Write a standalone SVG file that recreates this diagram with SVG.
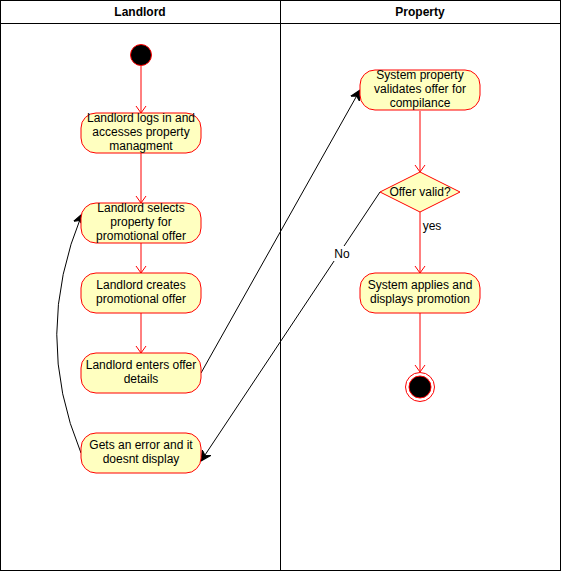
<svg xmlns="http://www.w3.org/2000/svg" width="561" height="571" viewBox="0 0 561 571">
<style>
.lane{fill:#fff;stroke:#000;stroke-width:1}
.hdr{font-family:"Liberation Sans",Arial,sans-serif;font-size:12px;font-weight:bold;text-anchor:middle;fill:#000}
.act{fill:#ffffc0;stroke:#ff0000;stroke-width:1}
.t{font-family:"Liberation Sans",Arial,sans-serif;font-size:12px;text-anchor:middle;fill:#000}
.red{fill:none;stroke:#ff0000;stroke-width:1}
.blk{fill:none;stroke:#000;stroke-width:1}
</style>
<defs>
<marker id="open" markerWidth="12" markerHeight="12" refX="10" refY="6" orient="auto" markerUnits="userSpaceOnUse">
<path d="M3,1 L10,6 L3,11" fill="none" stroke="#ff0000" stroke-width="1"/>
</marker>
<marker id="fill" markerWidth="12" markerHeight="12" refX="10" refY="6" orient="auto" markerUnits="userSpaceOnUse">
<path d="M0,1 L10,6 L0,11 L3,6 Z" fill="#000" stroke="#000" stroke-width="1"/>
</marker>
</defs>
<rect width="561" height="571" fill="#fff"/>
<g id="lane-landlord">
<rect class="lane" x="0.5" y="0.5" width="280" height="570"/>
<line x1="0.5" y1="23.5" x2="280.5" y2="23.5" stroke="#000"/>
<text class="hdr" x="140" y="16">Landlord</text>
</g>
<g id="lane-property">
<rect class="lane" x="280.5" y="0.5" width="280" height="570"/>
<line x1="280.5" y1="23.5" x2="560.5" y2="23.5" stroke="#000"/>
<text class="hdr" x="420" y="16">Property</text>
</g>
<g id="connectors">
<line class="red" x1="141" y1="66" x2="141" y2="113" marker-end="url(#open)"/>
<line class="red" x1="141" y1="153" x2="141" y2="203" marker-end="url(#open)"/>
<line class="red" x1="141" y1="243" x2="141" y2="273" marker-end="url(#open)"/>
<line class="red" x1="141" y1="313" x2="141" y2="353" marker-end="url(#open)"/>
<line class="red" x1="420" y1="111" x2="420" y2="172" marker-end="url(#open)"/>
<line class="red" x1="420" y1="212" x2="420" y2="273" marker-end="url(#open)"/>
<line class="red" x1="420" y1="313" x2="420" y2="372" marker-end="url(#open)"/>
<line class="blk" x1="201" y1="373" x2="360" y2="90" marker-end="url(#fill)"/>
<line class="blk" x1="380" y1="192" x2="201" y2="461" marker-end="url(#fill)"/>
<path class="blk" d="M81,453 Q32,335 82,214" marker-end="url(#fill)"/>
<rect x="333" y="246" width="18" height="15" fill="#fff"/>
<text class="t" x="342" y="258">No</text>
<text class="t" x="432" y="230" text-anchor="middle">yes</text>
</g>
<g id="start">
<circle cx="141" cy="55" r="10.5" fill="#000" stroke="#ff0000" stroke-width="1"/>
</g>
<g id="a1">
<rect class="act" x="81" y="113" width="120" height="40" rx="15"/>
<text class="t" x="141" y="122">Landlord logs in and</text>
<text class="t" x="141" y="136">accesses property</text>
<text class="t" x="141" y="150">managment</text>
</g>
<g id="a2">
<rect class="act" x="81" y="203" width="120" height="40" rx="15"/>
<text class="t" x="141" y="212">Landlord selects</text>
<text class="t" x="141" y="226">property for</text>
<text class="t" x="141" y="240">promotional offer</text>
</g>
<g id="a3">
<rect class="act" x="81" y="273" width="120" height="40" rx="15"/>
<text class="t" x="141" y="289">Landlord creates</text>
<text class="t" x="141" y="303">promotional offer</text>
</g>
<g id="a4">
<rect class="act" x="81" y="353" width="120" height="40" rx="15"/>
<text class="t" x="141" y="369">Landlord enters offer</text>
<text class="t" x="141" y="383">details</text>
</g>
<g id="a5">
<rect class="act" x="81" y="433" width="120" height="40" rx="15"/>
<text class="t" x="141" y="449">Gets an error and it</text>
<text class="t" x="141" y="463">doesnt display</text>
</g>
<g id="p1">
<rect class="act" x="360" y="70" width="120" height="40" rx="15"/>
<text class="t" x="420" y="79">System property</text>
<text class="t" x="420" y="93">validates offer for</text>
<text class="t" x="420" y="107">compilance</text>
</g>
<g id="decision">
<polygon class="act" points="420,172 460,192 420,212 380,192"/>
<text class="t" x="420" y="196">Offer valid?</text>
</g>
<g id="p2">
<rect class="act" x="360" y="273" width="120" height="40" rx="15"/>
<text class="t" x="420" y="289">System applies and</text>
<text class="t" x="420" y="303">displays promotion</text>
</g>
<g id="end">
<circle cx="420" cy="387" r="14.5" fill="#fff" stroke="#ff0000" stroke-width="1"/>
<circle cx="420" cy="387" r="11" fill="#000" stroke="#ff0000" stroke-width="1"/>
</g>
</svg>
